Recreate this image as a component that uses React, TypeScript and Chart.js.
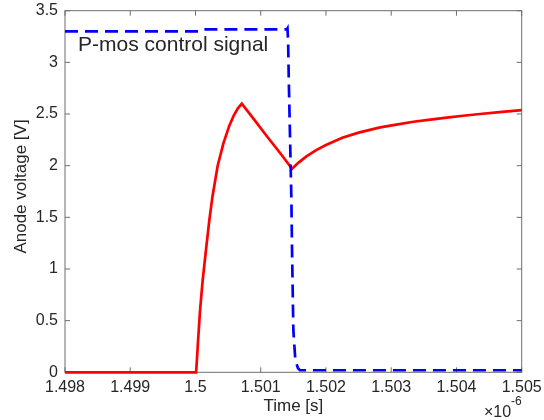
import { useEffect, useRef } from 'react';
import { Chart, registerables } from 'chart.js';

Chart.register(...registerables);

// Time axis in microseconds (labelled with a ×10^-6 multiplier)
const xTicks = [1.498, 1.499, 1.5, 1.501, 1.502, 1.503, 1.504, 1.505];
const yTicks = [0, 0.5, 1, 1.5, 2, 2.5, 3, 3.5];

// Anode voltage (red, solid)
const anodeTime = [
  1.498, 1.50001, 1.50004, 1.50007, 1.50011, 1.50016, 1.50021, 1.50026, 1.50034,
  1.50043, 1.50052, 1.50059, 1.50065, 1.50071, 1.5009, 1.5011, 1.5013, 1.50148,
  1.50158, 1.5017, 1.50185, 1.502, 1.50225, 1.5025, 1.50283, 1.5031, 1.50334,
  1.5036, 1.50385, 1.5041, 1.50436, 1.5047, 1.505,
];
const anodeVoltage = [
  0, 0, 0.31, 0.6, 0.89, 1.18, 1.46, 1.7, 2.0,
  2.22, 2.39, 2.49, 2.555, 2.6, 2.445, 2.28, 2.12, 1.97,
  2.03, 2.09, 2.15, 2.2, 2.27, 2.32, 2.37, 2.4, 2.425,
  2.446, 2.465, 2.483, 2.5, 2.52, 2.538,
];

// P-mos control signal (blue, dashed)
const controlTime = [
  1.498, 1.50005, 1.5001, 1.5014, 1.50141, 1.50142, 1.50143, 1.50147, 1.50148,
  1.5015, 1.50153, 1.50157, 1.5016, 1.505,
];
const controlVoltage = [
  3.3, 3.3, 3.32, 3.32, 3.33, 3.2, 2.83, 1.67, 1.18,
  0.41, 0.12, 0.04, 0.02, 0.02,
];

const annotationText = 'P-mos control signal';
const xTitle = 'Time [s]';
const yTitle = 'Anode voltage [V]';
const exponentBase = '×10';
const exponentPower = '-6';

const FONT = '"Liberation Sans", Arial, Helvetica, sans-serif';
const TEXT_COLOR = '#262626';
const AXIS_COLOR = '#6e6e6e';
const TICK_LEN = 5;

const toPoints = (xs: number[], ys: number[]) => xs.map((x, i) => ({ x, y: ys[i] }));

const axesPlugin = {
  id: 'matlabAxes',
  beforeDatasetsDraw(chart: any) {
    const { ctx, chartArea: a, scales } = chart;
    const x = scales.x;
    const y = scales.y;
    ctx.save();
    ctx.strokeStyle = AXIS_COLOR;
    ctx.lineWidth = 1;
    ctx.strokeRect(a.left, a.top, a.right - a.left, a.bottom - a.top);
    ctx.beginPath();
    for (const t of xTicks) {
      const px = x.getPixelForValue(t);
      ctx.moveTo(px, a.bottom);
      ctx.lineTo(px, a.bottom - TICK_LEN);
      ctx.moveTo(px, a.top);
      ctx.lineTo(px, a.top + TICK_LEN);
    }
    for (const t of yTicks) {
      const py = y.getPixelForValue(t);
      ctx.moveTo(a.left, py);
      ctx.lineTo(a.left + TICK_LEN, py);
      ctx.moveTo(a.right, py);
      ctx.lineTo(a.right - TICK_LEN, py);
    }
    ctx.stroke();
    ctx.restore();
  },
  afterDraw(chart: any) {
    const { ctx, chartArea: a, scales } = chart;
    const x = scales.x;
    const y = scales.y;
    ctx.save();
    ctx.fillStyle = TEXT_COLOR;

    // annotation inside the plot
    ctx.font = `21px ${FONT}`;
    ctx.textAlign = 'left';
    ctx.textBaseline = 'alphabetic';
    ctx.fillText(annotationText, x.getPixelForValue(1.4982), y.getPixelForValue(3.113));

    // axis titles
    ctx.font = `17px ${FONT}`;
    ctx.textAlign = 'center';
    ctx.textBaseline = 'middle';
    ctx.fillText(xTitle, (a.left + a.right) / 2, a.bottom + 34);
    ctx.save();
    ctx.translate(21, (a.top + a.bottom) / 2 - 5);
    ctx.rotate(-Math.PI / 2);
    ctx.fillText(yTitle, 0, 0);
    ctx.restore();

    // exponent multiplier
    ctx.textBaseline = 'alphabetic';
    ctx.textAlign = 'right';
    ctx.font = `12px ${FONT}`;
    const powW = ctx.measureText(exponentPower).width;
    ctx.fillText(exponentPower, a.right, a.bottom + 32.5);
    ctx.font = `16px ${FONT}`;
    ctx.fillText(exponentBase, a.right - powW, a.bottom + 44.4);
    ctx.restore();
  },
};

export default function App() {
  const canvasRef = useRef<HTMLCanvasElement | null>(null);

  useEffect(() => {
    const canvas = canvasRef.current;
    if (!canvas) return;
    const chart = new Chart(canvas, {
      type: 'line',
      data: {
        datasets: [
          {
            data: toPoints(controlTime, controlVoltage),
            borderColor: '#0000ff',
            borderWidth: 2.7,
            borderDash: [13, 7],
            pointRadius: 0,
            tension: 0,
            clip: false as any,
          },
          {
            data: toPoints(anodeTime, anodeVoltage),
            borderColor: '#ff0000',
            borderWidth: 2.7,
            pointRadius: 0,
            tension: 0,
            clip: false as any,
          },
        ],
      },
      options: {
        responsive: false,
        animation: false,
        devicePixelRatio: 1,
        parsing: false,
        layout: { padding: { top: 10.7, right: 22.3, left: 0, bottom: 0 } },
        plugins: { legend: { display: false }, tooltip: { enabled: false } },
        scales: {
          x: {
            type: 'linear',
            min: 1.498,
            max: 1.505,
            afterBuildTicks: (scale: any) => {
              scale.ticks = xTicks.map((v) => ({ value: v }));
            },
            afterFit: (scale: any) => {
              scale.height = 47.7;
              scale.paddingLeft = 0;
              scale.paddingRight = 0;
            },
            grid: { display: false, drawTicks: false },
            border: { display: false },
            ticks: {
              padding: 6,
              maxRotation: 0,
              autoSkip: false,
              color: TEXT_COLOR,
              font: { family: FONT, size: 16 },
              callback: (v: any) => String(Number(Number(v).toFixed(3))),
            },
          },
          y: {
            type: 'linear',
            min: 0,
            max: 3.5,
            afterBuildTicks: (scale: any) => {
              scale.ticks = yTicks.map((v) => ({ value: v }));
            },
            afterFit: (scale: any) => {
              scale.width = 65;
              scale.paddingTop = 0;
              scale.paddingBottom = 0;
            },
            grid: { display: false, drawTicks: false },
            border: { display: false },
            ticks: {
              padding: 7,
              autoSkip: false,
              color: TEXT_COLOR,
              font: { family: FONT, size: 16 },
              callback: (v: any) => String(Number(Number(v).toFixed(2))),
            },
          },
        },
      },
      plugins: [axesPlugin],
    });
    return () => chart.destroy();
  }, []);

  return (
    <canvas
      ref={canvasRef}
      width={544}
      height={420}
      style={{ position: 'absolute', left: 0, top: 0, width: 544, height: 420 }}
    />
  );
}
